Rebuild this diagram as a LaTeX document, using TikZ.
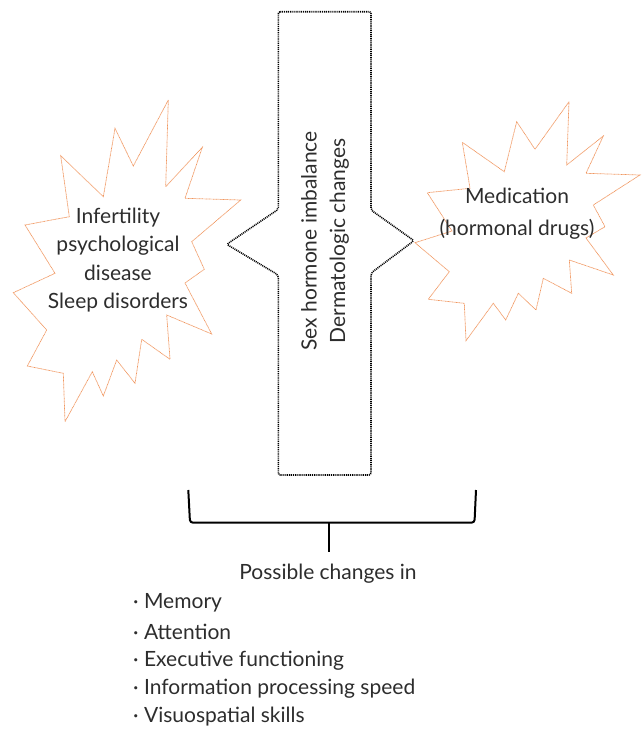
\documentclass[tikz,border=0pt]{standalone}
\usepackage{fontspec}
\setmainfont{Lato}
\begin{document}
\begin{tikzpicture}[x=1pt,y=-1pt,
  burst/.style={draw={rgb,255:red,240;green,150;blue,95},line width=0.7pt,dash pattern=on 0.9pt off 0.5pt,line join=miter},
  centerbox/.style={draw=black,line width=1.6pt,dash pattern=on 1pt off 0.9pt},
  bracket/.style={draw=black,line width=2pt,rounded corners=3pt},
  txt/.style={text={rgb,255:red,45;green,45;blue,45},font=\fontsize{21}{28.5}\selectfont,inner sep=0pt},
]
\useasboundingbox (0,0) rectangle (643,731);
% left starburst
\draw[burst] (168.3,100) -- (165.7,186.7) -- (202.3,147.3) -- (185,198.3) -- (240.7,200)
  -- (191.7,241.7) -- (204.3,269.3) -- (185,283) -- (211.7,334) -- (166.7,315)
  -- (170,359.3) -- (141.7,339.3) -- (135,383.3) -- (116.7,360) -- (103.3,396)
  -- (92.3,371.7) -- (65,421.7) -- (63.3,373.3) -- (27.3,366) -- (46.7,330)
  -- (13.3,292.7) -- (55,273.3) -- (25,225) -- (69.3,216.7) -- (60.7,155.7)
  -- (103.3,196.7) -- (115,128.3) -- (133.3,166) -- cycle;
% right starburst
\draw[burst] (569,101.7) -- (566.7,165) -- (603.3,136) -- (586,173.3) -- (640,175)
  -- (593.3,205) -- (605,226.7) -- (586,238) -- (613.3,275) -- (569.3,260)
  -- (571.7,293.3) -- (543.3,278.3) -- (536,310) -- (518.3,293.3) -- (505.7,320)
  -- (493.3,303.3) -- (466,340.7) -- (464.3,303.3) -- (428.3,299.3) -- (449.3,271.7)
  -- (415,242.7) -- (452,231) -- (427.3,192.7) -- (470,188.3) -- (462.3,142.3)
  -- (504.3,171.7) -- (516.7,121.7) -- (535,149.3) -- cycle;
% central shape
\draw[centerbox,rounded corners=2pt] (278.3,11.7) -- (371,11.7) -- (371,210)
  -- (414,240.7) -- (371,273) -- (371,475)
  -- (278.3,475) -- (278.3,275) -- (226.7,244.3)
  -- (278.3,209.3) -- cycle;
% texts
\node[txt,align=center] (lefttext) at (118,260) {Infertility\\psychological\\disease\\Sleep disorders};
\node[txt,align=center,font=\fontsize{21}{32}\selectfont] (righttext) at (517,214) {Medication\\(hormonal drugs)};
\node[txt,align=center,rotate=90] (centertext) at (325,241) {Sex hormone imbalance\\Dermatologic changes};
% bracket
\node[txt] (possible) at (328,574) {Possible changes in};
\coordinate (bl) at (188.3,490);
\coordinate (br) at (476,490);
\coordinate (bm) at (329,522.7);
\coordinate (bs) at (329,551.7);
\draw[bracket] (bl) -- (190,522.7) -- (474.5,522.7) -- (br);
\draw[draw=black,line width=2pt] (bm) -- (bs);
% list
\node[txt,anchor=west] (l1) at (133,603) {· Memory};
\node[txt,anchor=west] (l2) at (133,632) {· Attention};
\node[txt,anchor=west] (l3) at (133,661) {· Executive functioning};
\node[txt,anchor=west] (l4) at (133,689) {· Information processing speed};
\node[txt,anchor=west] (l5) at (133,717) {· Visuospatial skills};
\end{tikzpicture}
\end{document}
